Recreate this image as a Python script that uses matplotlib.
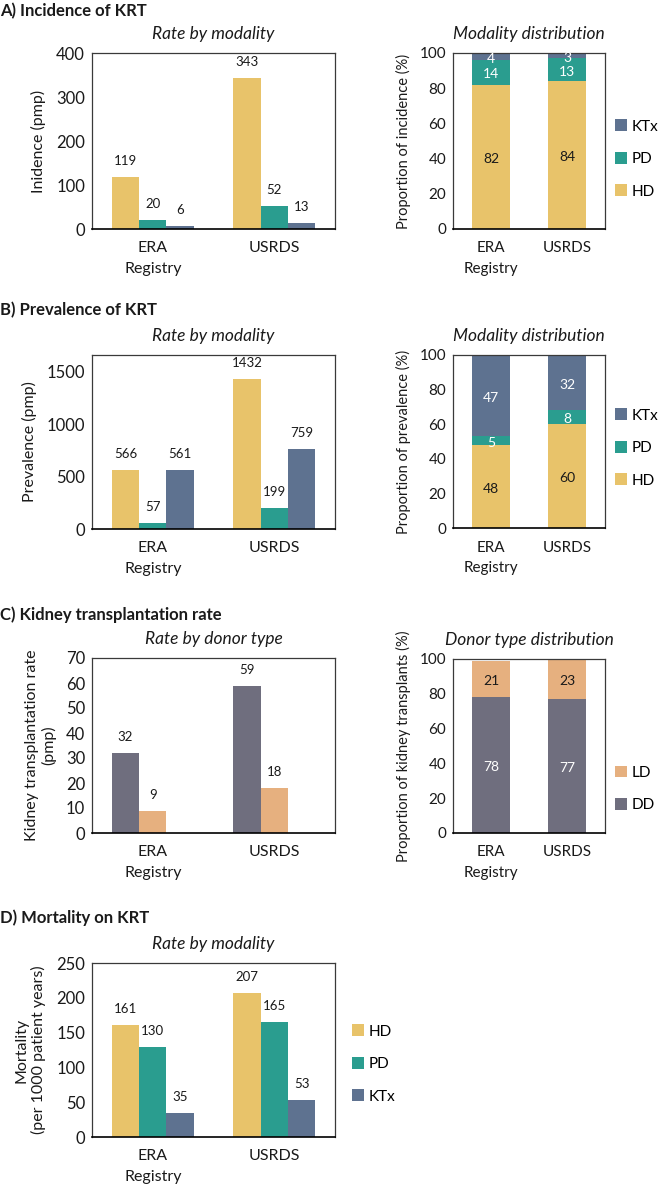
import matplotlib
matplotlib.use("Agg")
import matplotlib.pyplot as plt
import numpy as np
from matplotlib.patches import Patch

plt.rcParams['font.family'] = ['Lato', 'DejaVu Sans']

# ---------------- data ----------------
registries = ["ERA\nRegistry", "USRDS"]
modalities = ["HD", "PD", "KTx"]
donors = ["DD", "LD"]

incidence_rate = {"HD": [119, 343], "PD": [20, 52], "KTx": [6, 13]}
incidence_pct = {"HD": [82, 84], "PD": [14, 13], "KTx": [4, 3]}

prevalence_rate = {"HD": [566, 1432], "PD": [57, 199], "KTx": [561, 759]}
prevalence_pct = {"HD": [48, 60], "PD": [5, 8], "KTx": [47, 32]}

tx_rate = {"DD": [32, 59], "LD": [9, 18]}
tx_pct = {"DD": [78, 77], "LD": [21, 23]}

mortality_rate = {"HD": [161, 207], "PD": [130, 165], "KTx": [35, 53]}

colors = {"HD": "#E8C36A", "PD": "#2A9D8F", "KTx": "#5E7290",
          "DD": "#6F6E7E", "LD": "#E6B07F"}
pct_text_color = {"HD": "#1a1a1a", "PD": "white", "KTx": "white",
                  "DD": "white", "LD": "#1a1a1a"}

W, H = 660, 1188
fig = plt.figure(figsize=(W / 100, H / 100), dpi=100)


def axes_px(x0, x1, y0, y1):
    return fig.add_axes([x0 / W, 1 - y1 / H, (x1 - x0) / W, (y1 - y0) / H])


def style(ax, ymax, yticks, ytick_fs, xtick_fs):
    ax.set_ylim(0, ymax)
    ax.set_xlim(-0.5, 1.5)
    ax.set_yticks(yticks)
    ax.set_xticks(range(len(registries)))
    ax.set_xticklabels(registries, linespacing=1.55)
    ax.tick_params(axis='both', length=0, colors='#1a1a1a')
    ax.tick_params(axis='x', pad=9, labelsize=xtick_fs)
    ax.tick_params(axis='y', pad=5, labelsize=ytick_fs)
    for s in ['left', 'top', 'right']:
        ax.spines[s].set_color('#3a3a3a')
        ax.spines[s].set_linewidth(0.9)
    ax.spines['bottom'].set_color('black')
    ax.spines['bottom'].set_linewidth(1.2)


def grouped(ax, data, keys, ymax, yticks, ylabel, title):
    x = np.arange(len(registries))
    w = 0.225
    for i, k in enumerate(keys):
        bars = ax.bar(x + (i - 1) * w, data[k], width=w, color=colors[k], label=k)
        for b, v in zip(bars, data[k]):
            ax.annotate(str(v), (b.get_x() + b.get_width() / 2, b.get_height()),
                        xytext=(0, 11.5), textcoords='offset points',
                        ha='center', va='center', fontsize=9.5, color='#1a1a1a')
    style(ax, ymax, yticks, 12, 11.5)
    ax.set_ylabel(ylabel, fontsize=11.5, labelpad=7, color='#1a1a1a')
    ax.set_title(title, style='italic', fontsize=12.5, pad=10, color='#1a1a1a')


def stacked(ax, data, keys, ylabel, title):
    x = np.arange(len(registries))
    bottom = np.zeros(len(registries))
    for k in keys:
        vals = np.array(data[k], dtype=float)
        ax.bar(x, vals, width=0.5, bottom=bottom, color=colors[k], label=k)
        for xi, b0, v in zip(x, bottom, vals):
            ax.annotate(str(int(v)), (xi, b0 + v / 2), xytext=(0, -1.5),
                        textcoords='offset points', ha='center', va='center',
                        fontsize=10, color=pct_text_color[k])
        bottom = bottom + vals
    style(ax, 100, [0, 20, 40, 60, 80, 100], 11, 11)
    ax.set_ylabel(ylabel, fontsize=10.5, labelpad=6, color='#1a1a1a')
    ax.set_title(title, style='italic', fontsize=12.5, pad=10, color='#1a1a1a')


def legend(ax, keys, x_px, y_px):
    handles = [Patch(facecolor=colors[k], edgecolor='none') for k in keys]
    ax.legend(handles, keys, loc='center left',
              bbox_to_anchor=(x_px / W, 1 - y_px / H),
              bbox_transform=fig.transFigure, frameon=False,
              handlelength=0.8, handleheight=0.8, handletextpad=0.3,
              labelspacing=1.2, fontsize=11, borderaxespad=0, borderpad=0)


def heading(y_px, text):
    fig.text(0.0, 1 - y_px / H, text, fontsize=12, weight='bold',
             ha='left', va='center', color='#1a1a1a')


# A
heading(11, "A) Incidence of KRT")
axA1 = axes_px(92, 335, 53, 229)
grouped(axA1, incidence_rate, modalities, 400, [0, 100, 200, 300, 400],
        "Inidence (pmp)", "Rate by modality")
axA2 = axes_px(453, 605, 53, 229)
stacked(axA2, incidence_pct, modalities, "Proportion of incidence (%)",
        "Modality distribution")
legend(axA2, ["KTx", "PD", "HD"], 615, 159)

# B
heading(310, "B) Prevalence of KRT")
axB1 = axes_px(92, 335, 355, 529)
grouped(axB1, prevalence_rate, modalities, 1660, [0, 500, 1000, 1500],
        "Prevalence (pmp)", "Rate by modality")
axB2 = axes_px(453, 605, 355, 528)
stacked(axB2, prevalence_pct, modalities, "Proportion of prevalence (%)",
        "Modality distribution")
legend(axB2, ["KTx", "PD", "HD"], 615, 448)

# C
heading(615, "C) Kidney transplantation rate")
axC1 = axes_px(92, 335, 658, 833)
grouped(axC1, tx_rate, donors, 70, [0, 10, 20, 30, 40, 50, 60, 70],
        "Kidney transplantation rate\n(pmp)", "Rate by donor type")
axC2 = axes_px(453, 605, 659, 833)
stacked(axC2, tx_pct, donors, "Proportion of kidney transplants (%)",
        "Donor type distribution")
legend(axC2, ["LD", "DD"], 615, 789)

# D
heading(918, "D) Mortality on KRT")
axD1 = axes_px(92, 335, 963, 1137)
grouped(axD1, mortality_rate, modalities, 250, [0, 50, 100, 150, 200, 250],
        "Mortality\n(per 1000 patient years)", "Rate by modality")
legend(axD1, ["HD", "PD", "KTx"], 352, 1064)

fig.savefig("out.png", dpi=100)
